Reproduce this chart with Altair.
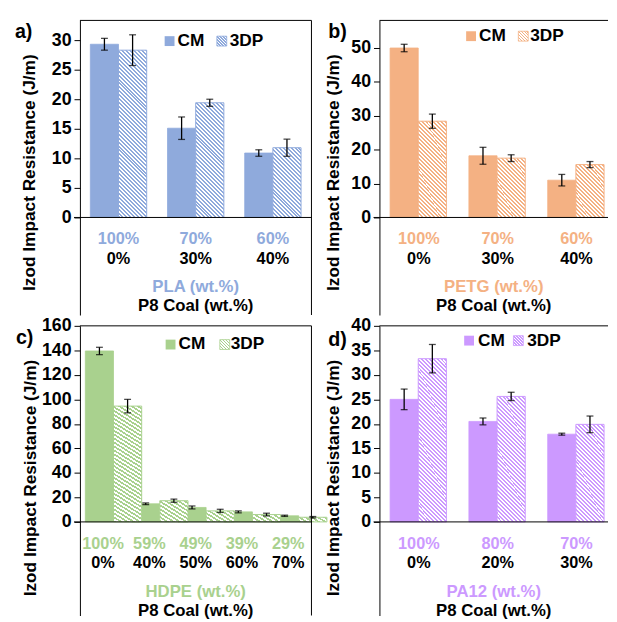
import altair as alt
import pandas as pd

FONT = "Liberation Sans"
BLACK = "#000000"
methods = ["CM", "3DP"]

# ---------------- data ----------------
# a) PLA
pla_cats = ["PLA100", "PLA70", "PLA60"]
pla_poly = ["100%", "70%", "60%"]
pla_coal = ["0%", "30%", "40%"]
pla_cm = [29.3, 15.1, 10.9]
pla_cm_err = [1.0, 1.9, 0.55]
pla_3dp = [28.3, 19.4, 11.8]
pla_3dp_err = [2.6, 0.6, 1.45]
pla_ticks = [0, 5, 10, 15, 20, 25, 30]

# b) PETG
petg_cats = ["PETG100", "PETG70", "PETG60"]
petg_poly = ["100%", "70%", "60%"]
petg_coal = ["0%", "30%", "40%"]
petg_cm = [50.0, 18.2, 11.0]
petg_cm_err = [1.1, 2.5, 1.7]
petg_3dp = [28.4, 17.5, 15.6]
petg_3dp_err = [2.1, 1.0, 0.9]
petg_ticks = [0, 10, 20, 30, 40, 50]

# c) HDPE
hdpe_cats = ["HDPE100", "HDPE59", "HDPE49", "HDPE39", "HDPE29"]
hdpe_poly = ["100%", "59%", "49%", "39%", "29%"]
hdpe_coal = ["0%", "40%", "50%", "60%", "70%"]
hdpe_cm = [139.5, 14.8, 11.8, 8.2, 5.0]
hdpe_cm_err = [3.0, 0.7, 1.2, 0.8, 0.5]
hdpe_3dp = [94.5, 17.3, 9.0, 6.0, 3.8]
hdpe_3dp_err = [5.5, 1.3, 1.3, 1.1, 0.6]
hdpe_ticks = [0, 20, 40, 60, 80, 100, 120, 140, 160]

# d) PA12
pa_cats = ["PA100", "PA80", "PA70"]
pa_poly = ["100%", "80%", "70%"]
pa_coal = ["0%", "20%", "30%"]
pa_cm = [25.0, 20.5, 17.9]
pa_cm_err = [2.1, 0.7, 0.2]
pa_3dp = [33.3, 25.6, 19.9]
pa_3dp_err = [2.9, 0.85, 1.7]
pa_ticks = [0, 5, 10, 15, 20, 25, 30, 35, 40]


def hatch(color, w, h, period=4.0, frac=0.5):
    """Diagonal (top-left to bottom-right) stripes as a linear gradient."""
    total = w + h
    stops = []
    k = 0
    while k * period < total:
        s = min(k * period / total, 1.0)
        m = min((k * period + frac * period) / total, 1.0)
        e = min((k + 1) * period / total, 1.0)
        stops += [
            {"offset": s, "color": color},
            {"offset": m, "color": color},
            {"offset": m, "color": "#ffffff"},
            {"offset": e, "color": "#ffffff"},
        ]
        k += 1
    d = w * w + h * h
    dx = w * (w + h) / d
    dy = -h * (w + h) / d
    return {"gradient": "linear", "x1": 0, "y1": 1, "x2": dx, "y2": 1 + dy, "stops": stops}


def txt(size=16, color=BLACK, align="center", baseline="middle"):
    return dict(font=FONT, fontSize=size, fontWeight="bold", color=color,
                align=align, baseline=baseline)


one = pd.DataFrame({"k": [0]})


def make_panel(letter, name, color, cats, poly, coal, cm, cm_err, p3, p3_err,
               ticks, ppu, zero_px, H, W, xr, p_inner, right_frame,
               letter_pos, leg, title_x):
    ymax = zero_px / ppu
    ymin = -(H - zero_px) / ppu
    rows = []
    for i, c in enumerate(cats):
        rows.append(dict(cat=c, method="CM", value=cm[i], lo=cm[i] - cm_err[i], hi=cm[i] + cm_err[i]))
        rows.append(dict(cat=c, method="3DP", value=p3[i], lo=p3[i] - p3_err[i], hi=p3[i] + p3_err[i]))
    df = pd.DataFrame(rows)
    labels = pd.DataFrame(dict(cat=cats, poly=poly, coal=coal))

    xenc = alt.X("cat:N", scale=alt.Scale(domain=cats, range=[0, xr], paddingInner=p_inner,
                                          paddingOuter=p_inner / 2), axis=None)
    xoff = alt.XOffset("method:N", scale=alt.Scale(domain=methods))
    yscale = alt.Scale(domain=[ymin, ymax], nice=False, zero=False)
    yaxis = alt.Axis(values=ticks, grid=False, tickSize=6, tickColor=BLACK, tickWidth=1,
                     domainColor=BLACK, domainWidth=1, labelFont=FONT, labelFontSize=18,
                     labelFontWeight="bold", labelColor=BLACK, labelPadding=3,
                     title="Izod Impact Resistance (J/m)", titleFont=FONT, titleFontSize=17.5,
                     titleFontWeight="bold", titleColor=BLACK, titleX=title_x, titleY=154,
                     titleBaseline="middle", titleAlign="center", titleAngle=270)

    base = alt.Chart(df)
    layers = []
    layers.append(
        base.transform_filter("datum.method == 'CM'")
        .mark_bar(color=color, stroke=color, strokeWidth=0.8)
        .encode(x=xenc, xOffset=xoff, y=alt.Y("value:Q", scale=yscale, axis=yaxis), y2=alt.datum(0))
    )
    n = len(cats)
    barw = (xr / n) * (1 - p_inner) / 2
    for i, c in enumerate(cats):
        hpx = p3[i] * ppu
        layers.append(
            base.transform_filter(f"datum.cat == '{c}' && datum.method == '3DP'")
            .mark_bar(fill=hatch(color, barw, hpx), stroke=color, strokeWidth=1)
            .encode(x=xenc, xOffset=xoff, y=alt.Y("value:Q", scale=yscale, axis=yaxis), y2=alt.datum(0))
        )
    # x axis line at zero
    layers.append(alt.Chart(one).mark_rule(color=BLACK, strokeWidth=1)
                  .encode(x=alt.value(-6), x2=alt.value(W), y=alt.value(zero_px)))
    # frame
    layers.append(alt.Chart(one).mark_rule(color=BLACK, strokeWidth=1)
                  .encode(x=alt.value(0), x2=alt.value(W), y=alt.value(0)))
    if right_frame:
        layers.append(alt.Chart(one).mark_rule(color=BLACK, strokeWidth=1)
                      .encode(x=alt.value(W), y=alt.value(0), y2=alt.value(H)))
    # error bars
    layers.append(base.mark_rule(color=BLACK, strokeWidth=1.3)
                  .encode(x=xenc, xOffset=xoff, y=alt.Y("lo:Q", scale=yscale, axis=yaxis), y2="hi:Q"))
    layers.append(base.mark_tick(color=BLACK, size=7, thickness=1.3)
                  .encode(x=xenc, xOffset=xoff, y=alt.Y("hi:Q", scale=yscale, axis=yaxis)))
    layers.append(base.mark_tick(color=BLACK, size=7, thickness=1.3)
                  .encode(x=xenc, xOffset=xoff, y=alt.Y("lo:Q", scale=yscale, axis=yaxis)))
    # category labels
    layers.append(alt.Chart(labels).mark_text(**txt(16.5, color))
                  .encode(x=xenc, y=alt.value(zero_px + 22), text="poly:N"))
    layers.append(alt.Chart(labels).mark_text(**txt(16.5, BLACK))
                  .encode(x=xenc, y=alt.value(zero_px + 42), text="coal:N"))
    # axis titles
    layers.append(alt.Chart(one).mark_text(**txt(17, color))
                  .encode(x=alt.value(W / 2), y=alt.value(zero_px + 71), text=alt.value(f"{name} (wt.%)")))
    layers.append(alt.Chart(one).mark_text(**txt(17, BLACK))
                  .encode(x=alt.value(W / 2), y=alt.value(zero_px + 90), text=alt.value("P8 Coal (wt.%)")))
    # panel letter
    layers.append(alt.Chart(one).mark_text(**txt(20, BLACK, "left", "top"))
                  .encode(x=alt.value(letter_pos[0]), y=alt.value(letter_pos[1]), text=alt.value(letter)))
    # legend
    cmx, yc, cmt, p3x, p3t = leg
    layers.append(alt.Chart(one).mark_rect(color=color)
                  .encode(x=alt.value(cmx), x2=alt.value(cmx + 10), y=alt.value(yc - 5), y2=alt.value(yc + 5)))
    layers.append(alt.Chart(one).mark_rect(fill=hatch(color, 10, 10, 3.0), stroke=color, strokeWidth=0.8)
                  .encode(x=alt.value(p3x), x2=alt.value(p3x + 10), y=alt.value(yc - 5), y2=alt.value(yc + 5)))
    layers.append(alt.Chart(one).mark_text(**txt(17.5, BLACK, "left"))
                  .encode(x=alt.value(cmt), y=alt.value(yc), text=alt.value("CM")))
    layers.append(alt.Chart(one).mark_text(**txt(17.5, BLACK, "left"))
                  .encode(x=alt.value(p3t), y=alt.value(yc), text=alt.value("3DP")))
    return alt.layer(*layers).properties(width=W, height=H)


pa = make_panel("a)", "PLA", "#8FAADC", pla_cats, pla_poly, pla_coal, pla_cm, pla_cm_err,
                pla_3dp, pla_3dp_err, pla_ticks, 6.0, 200, 299, 235, 235, 0.27, True,
                (-66, 2), (86, 21, 99, 139, 152), -51)
pb = make_panel("b)", "PETG", "#F4B183", petg_cats, petg_poly, petg_coal, petg_cm, petg_cm_err,
                petg_3dp, petg_3dp_err, petg_ticks, 3.44, 200, 299, 232, 240, 0.27, False,
                (-52, 2), (88, 16, 101, 141, 153), -47)
pc = make_panel("c)", "HDPE", "#A9D18E", hdpe_cats, hdpe_poly, hdpe_coal, hdpe_cm, hdpe_cm_err,
                hdpe_3dp, hdpe_3dp_err, hdpe_ticks, 199 / 160, 199, 294, 235, 235, 0.234, True,
                (-65, 2), (87, 19, 100, 142, 153), -50)
pd_ = make_panel("d)", "PA12", "#CC99FF", pa_cats, pa_poly, pa_coal, pa_cm, pa_cm_err,
                 pa_3dp, pa_3dp_err, pa_ticks, 199 / 40, 199, 294, 232, 240, 0.27, False,
                 (-52, 4), (86, 15, 100, 136, 150), -47)

chart = (
    alt.concat(pa, pb, pc, pd_, columns=2, spacing={"row": 11, "column": 69}, bounds="flush")
    .properties(padding={"left": 7, "top": 7, "right": 0, "bottom": 0})
    .configure_view(stroke=None)
)

chart.save("out.html", embed_options={"renderer": "svg", "actions": False})
